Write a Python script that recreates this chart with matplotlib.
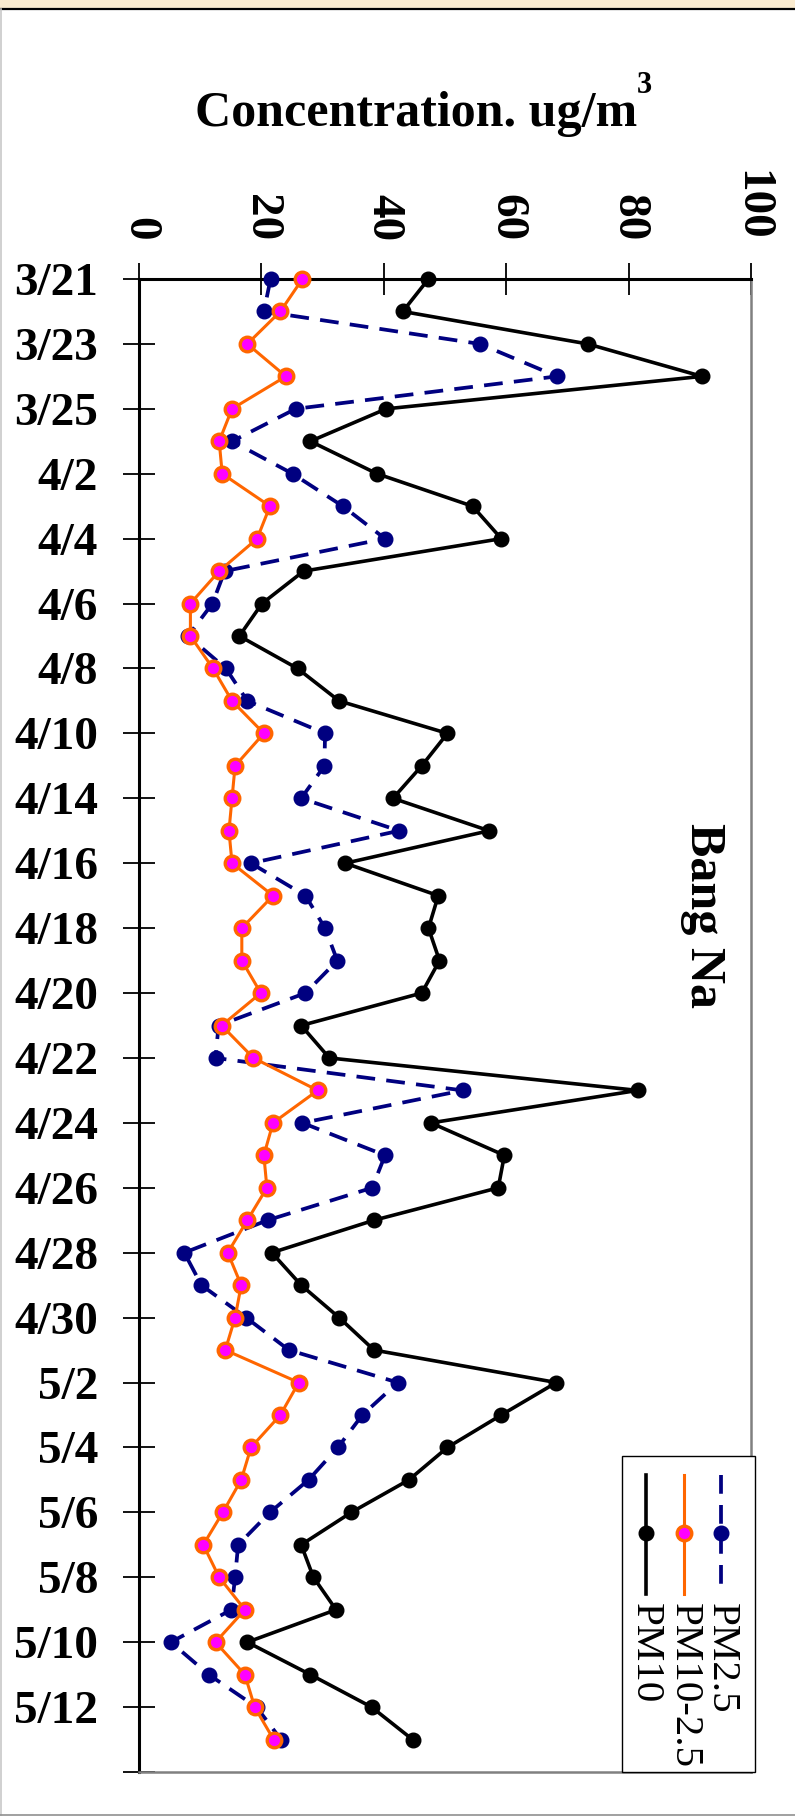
import numpy as np
import matplotlib.pyplot as plt
from matplotlib.lines import Line2D
from matplotlib.patches import Rectangle

plt.rcParams['font.family'] = ['Liberation Serif', 'DejaVu Serif']

# sampling days (only every other one is labelled on the axis)
dates = ["3/21", "3/22", "3/23", "3/24", "3/25", "3/26", "4/2", "4/3", "4/4", "4/5",
         "4/6", "4/7", "4/8", "4/9", "4/10", "4/12", "4/14", "4/15", "4/16", "4/17",
         "4/18", "4/19", "4/20", "4/21", "4/22", "4/23", "4/24", "4/25", "4/26", "4/27",
         "4/28", "4/29", "4/30", "5/1", "5/2", "5/3", "5/4", "5/5", "5/6", "5/7",
         "5/8", "5/9", "5/10", "5/11", "5/12", "5/13"]

pm10 = [47.3, 43.1, 73.3, 92.0, 40.4, 28.0, 38.9, 54.5, 59.2, 26.9,
        20.1, 16.4, 25.9, 32.7, 50.4, 46.2, 41.5, 57.2, 33.7, 48.9,
        47.3, 49.1, 46.2, 26.5, 31.1, 81.5, 47.7, 59.7, 58.7, 38.4,
        21.7, 26.5, 32.7, 38.4, 68.2, 59.2, 50.4, 44.1, 34.7, 26.5,
        28.5, 32.2, 17.7, 28.0, 38.0, 44.7]

pm25 = [21.5, 20.4, 55.7, 68.3, 25.6, 15.2, 25.1, 33.3, 40.2, 14.0,
        12.0, 8.0, 14.2, 17.7, 30.4, 30.3, 26.5, 42.5, 18.3, 27.2,
        30.4, 32.4, 27.2, 13.0, 12.5, 52.9, 26.7, 40.2, 38.1, 21.0,
        7.4, 10.2, 17.5, 24.5, 42.3, 36.5, 32.5, 27.7, 21.4, 16.2,
        15.7, 15.1, 5.2, 11.4, 19.2, 23.2]

pm10_25 = [26.7, 23.1, 17.7, 24.0, 15.2, 13.1, 13.6, 21.4, 19.3, 13.1,
           8.4, 8.4, 12.1, 15.2, 20.4, 15.7, 15.2, 14.7, 15.2, 21.9,
           16.8, 16.8, 19.9, 13.5, 18.7, 29.2, 21.9, 20.4, 20.9, 17.7,
           14.5, 16.7, 15.7, 14.1, 26.1, 23.1, 18.3, 16.7, 13.7, 10.5,
           13.1, 17.3, 12.5, 17.3, 18.9, 22.0]

value_ticks = [0, 20, 40, 60, 80, 100]

W, H = 795, 1816
fig = plt.figure(figsize=(W / 100, H / 100), dpi=100)
ax = fig.add_axes([139 / W, 44 / H, 612 / W, 1493 / H])

idx = np.arange(len(dates))
blue_kw = dict(color='#000080', lw=2.7, ls=(0, (5, 3)), marker='o', ms=10.5,
               mfc='#000080', mec='#000080')
orange_kw = dict(color='#FF6600', lw=2.2, marker='o', ms=10.5, mfc='#FF00FF',
                 mec='#FF6600', mew=2.4)
black_kw = dict(color='black', lw=2.6, marker='o', ms=10.5, mfc='black', mec='black')

ax.plot(pm25, idx, **blue_kw, clip_on=False, zorder=3)
ax.plot(pm10_25, idx, **orange_kw, clip_on=False, zorder=4)
ax.plot(pm10, idx, **black_kw, clip_on=False, zorder=5)

ax.set_xlim(0, 100)
ax.set_ylim(46, 0)

ax.xaxis.tick_top()
ax.set_xticks(value_ticks)
ax.set_xticklabels([str(v) for v in value_ticks], rotation=-90,
                   fontsize=34, fontweight='bold')
ax.set_yticks(np.arange(0, 47, 2))
ax.set_yticklabels(dates[::2] + [''], fontsize=34, fontweight='bold')
ax.tick_params(axis='x', direction='inout', length=23, width=1.3, pad=16)
ax.tick_params(axis='y', direction='inout', length=23, width=1.3, pad=18)

ax.spines['top'].set_linewidth(2.2)
ax.spines['left'].set_linewidth(2.2)
for s in ['right', 'bottom']:
    ax.spines[s].set_color('#808080')
    ax.spines[s].set_linewidth(1.8)

ax.text(0.922, 0.574, 'Bang Na', rotation=-90, ha='center', va='center',
        fontsize=36, fontweight='bold', transform=ax.transAxes)

# legend drawn by hand, rotated like the rest of the chart
ax.add_patch(Rectangle((0.789, 0.0), 0.2175, 0.2117, transform=ax.transAxes,
                       facecolor='white', edgecolor='black', lw=1.0,
                       clip_on=False, zorder=10))
leg_x = [0.951, 0.891, 0.828]
leg_names = ['PM2.5', 'PM10-2.5', 'PM10']
for lx, name, kw in zip(leg_x, leg_names, [blue_kw, orange_kw, black_kw]):
    line_kw = {k: v for k, v in kw.items() if not k.startswith('m')}
    ax.add_line(Line2D([lx, lx], [0.199, 0.119], transform=ax.transAxes,
                       clip_on=False, zorder=11, **line_kw))
    ax.add_line(Line2D([lx], [0.160], transform=ax.transAxes, clip_on=False,
                       zorder=12, ls='none', **{k: v for k, v in kw.items()
                                               if k.startswith('m')}))
    ax.text(lx, 0.113, name, rotation=-90, ha='center', va='top', fontsize=29.5,
            transform=ax.transAxes, zorder=12)

# axis title with the superscript
fig.text(195 / W, 1 - 126 / H, 'Concentration. ug/m', fontsize=36,
         fontweight='bold', va='baseline')
fig.text(637 / W, 1 - 93 / H, '3', fontsize=22, fontweight='bold', va='baseline')

# page frame
fig.patches.append(Rectangle((0, 1 - 8 / H), 1, 8 / H, transform=fig.transFigure,
                             facecolor='#FAEBCF', edgecolor='none'))
fig.lines.append(Line2D([0, 1], [1 - 9 / H, 1 - 9 / H], transform=fig.transFigure,
                        color='black', lw=1.6))
fig.lines.append(Line2D([0.5 / W, 0.5 / W], [1 / H, 1 - 9 / H],
                        transform=fig.transFigure, color='#c8c8c8', lw=1.2))
fig.lines.append(Line2D([0, 1], [1 / H, 1 / H], transform=fig.transFigure,
                        color='#909090', lw=1.2))

fig.savefig('out.png', dpi=100)
